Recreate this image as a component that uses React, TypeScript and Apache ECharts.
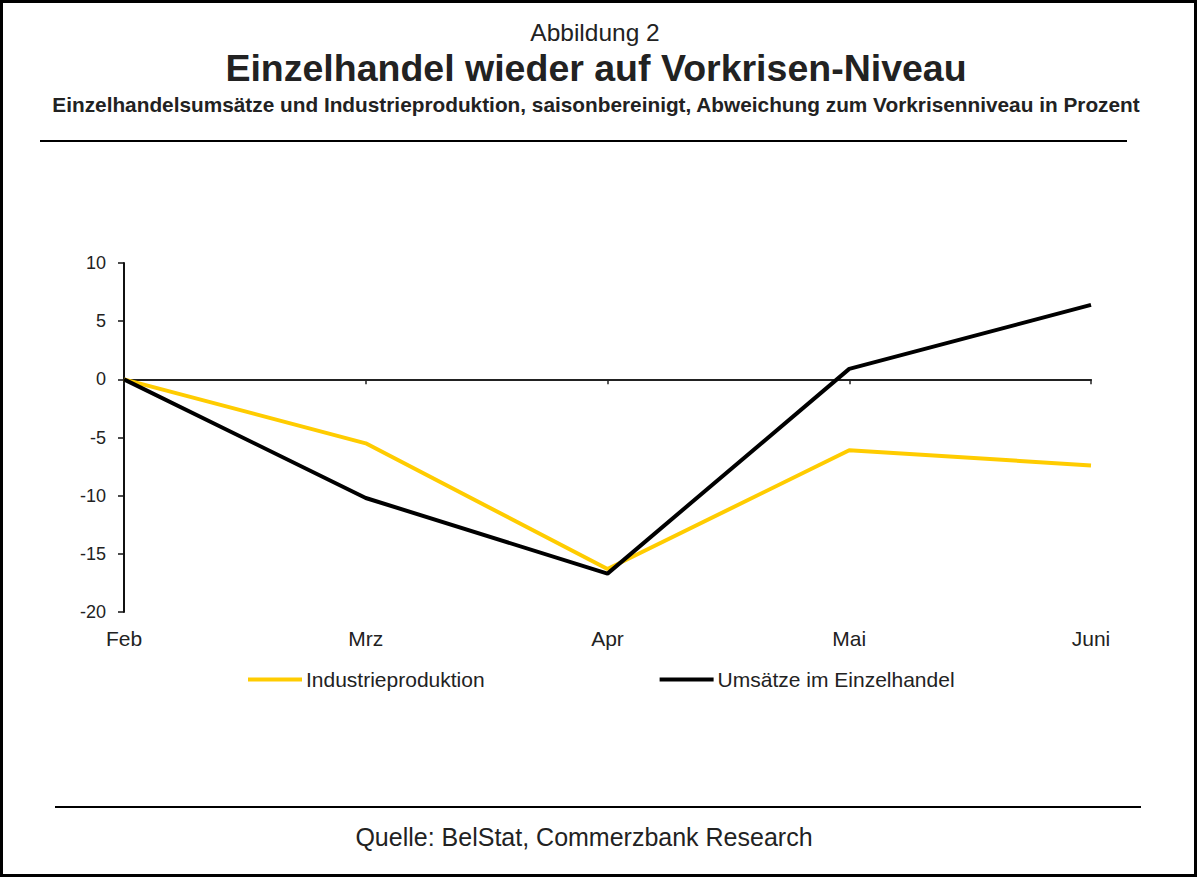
import React, { useEffect, useRef } from "react";
import * as echarts from "echarts";

const categories = ["Feb", "Mrz", "Apr", "Mai", "Juni"];
const industrie = [0, -5.5, -16.3, -6.1, -7.4];
const einzelhandel = [0, -10.2, -16.7, 0.9, 6.4];
const yTicks = { min: -20, max: 10, interval: 5 };

const FONT = "'Liberation Sans', Arial, sans-serif";

export default function App() {
  const ref = useRef<HTMLDivElement>(null);
  useEffect(() => {
    document.body.style.margin = "0";
    const chart = echarts.init(ref.current!, null, { renderer: "svg" });
    chart.setOption({
      animation: false,
      backgroundColor: "#fff",
      textStyle: { fontFamily: FONT },
      graphic: [
        { type: "rect", shape: { x: 1.5, y: 1.5, width: 1194, height: 874 }, style: { fill: "none", stroke: "#000", lineWidth: 3 } },
        { type: "text", x: 595, y: 32, style: { text: "Abbildung 2", font: `24.5px ${FONT}`, fill: "#222", align: "center", verticalAlign: "middle" } },
        { type: "text", x: 596, y: 68, style: { text: "Einzelhandel wieder auf Vorkrisen-Niveau", font: `bold 37.5px ${FONT}`, fill: "#222", align: "center", verticalAlign: "middle" } },
        { type: "text", x: 596, y: 104, style: { text: "Einzelhandelsumsätze und Industrieproduktion, saisonbereinigt, Abweichung zum Vorkrisenniveau in Prozent", font: `bold 20.8px ${FONT}`, fill: "#222", align: "center", verticalAlign: "middle" } },
        { type: "line", shape: { x1: 40, y1: 141, x2: 1127, y2: 141 }, style: { stroke: "#000", lineWidth: 2 } },
        { type: "line", shape: { x1: 55, y1: 807, x2: 1141, y2: 807 }, style: { stroke: "#000", lineWidth: 2 } },
        { type: "text", x: 584, y: 837, style: { text: "Quelle: BelStat, Commerzbank Research", font: `25px ${FONT}`, fill: "#222", align: "center", verticalAlign: "middle" } },
      ],
      legend: {
        left: 248,
        top: 669,
        padding: 0,
        itemWidth: 54,
        itemHeight: 4,
        itemGap: 175,
        icon: "rect",
        textStyle: { fontSize: 21, color: "#222", fontFamily: FONT, padding: [0, 0, 0, -1] },
        data: ["Industrieproduktion", "Umsätze im Einzelhandel"],
      },
      grid: { left: 124, right: 106, top: 263, bottom: 265, containLabel: false },
      xAxis: [
        {
          type: "category",
          data: categories,
          boundaryGap: false,
          axisLine: { onZero: true, lineStyle: { color: "#222", width: 2 } },
          axisTick: { show: true, length: 5, lineStyle: { color: "#222", width: 1.5 } },
          axisLabel: { show: false },
          splitLine: { show: false },
        },
        {
          type: "category",
          data: categories,
          boundaryGap: false,
          position: "bottom",
          axisLine: { show: false, onZero: false },
          axisTick: { show: false },
          axisLabel: { show: true, fontSize: 21, color: "#222", fontFamily: FONT, margin: 16 },
          splitLine: { show: false },
        },
      ],
      yAxis: {
        type: "value",
        min: yTicks.min,
        max: yTicks.max,
        interval: yTicks.interval,
        axisLine: { show: true, lineStyle: { color: "#111", width: 2 } },
        axisTick: { show: true, length: 6, lineStyle: { color: "#111", width: 1.5 } },
        axisLabel: { fontSize: 18, color: "#222", fontFamily: FONT, margin: 18 },
        splitLine: { show: false },
      },
      series: [
        {
          name: "Industrieproduktion",
          type: "line",
          data: industrie,
          xAxisIndex: 0,
          symbol: "none",
          lineStyle: { color: "#FFCC00", width: 4 },
          itemStyle: { color: "#FFCC00" },
        },
        {
          name: "Umsätze im Einzelhandel",
          type: "line",
          data: einzelhandel,
          xAxisIndex: 0,
          symbol: "none",
          lineStyle: { color: "#000", width: 4 },
          itemStyle: { color: "#000" },
        },
      ],
    });
    return () => chart.dispose();
  }, []);
  return <div ref={ref} style={{ width: 1197, height: 877 }} />;
}
